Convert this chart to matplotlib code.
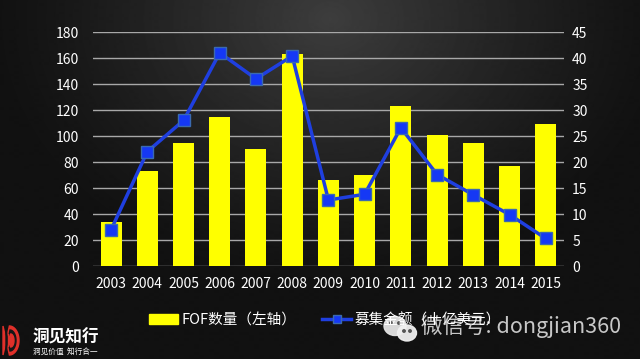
import matplotlib.pyplot as plt
import numpy as np
from matplotlib.patches import Ellipse, Patch, Polygon
from matplotlib.lines import Line2D

plt.rcParams['font.family'] = ['Noto Sans CJK SC', 'DejaVu Sans']

years = ['2003', '2004', '2005', '2006', '2007', '2008', '2009',
         '2010', '2011', '2012', '2013', '2014', '2015']
fof_count = [34, 73, 95, 115, 90, 163, 66, 70, 123, 101, 95, 77, 109]
raised = [7, 22, 28, 41, 36, 40.4, 12.7, 13.8, 26.6, 17.6, 13.7, 9.9, 5.3]

fig = plt.figure(figsize=(6.4, 3.6), dpi=100)

# dark spotlight background
bg = fig.add_axes([0, 0, 1, 1], zorder=0)
yy, xx = np.mgrid[0:360, 0:640]
r = np.sqrt(((xx - 330) / 330.0) ** 2 + ((yy - 20) / 260.0) ** 2)
shade = 0.07 + 0.17 * np.clip(1 - r, 0, 1) ** 1.2
bg.imshow(shade, cmap='gray', vmin=0, vmax=1, aspect='auto', interpolation='bilinear')
bg.set_xlim(0, 640)
bg.set_ylim(360, 0)
bg.axis('off')

ax = fig.add_axes([0.1453, 0.261, 0.7357, 0.65], zorder=1)
ax.patch.set_alpha(0)
x = np.arange(len(years))
ax.set_axisbelow(True)
ax.yaxis.grid(True, color='#a8a8a8', lw=1)
ax.bar(x, fof_count, width=0.58, color='#ffff00', zorder=2)
ax.set_ylim(0, 180)
ax.set_yticks(range(0, 181, 20))
ax.set_xlim(-0.5, len(years) - 0.5)
ax.set_xticks(x)
ax.set_xticklabels(years)

ax2 = ax.twinx()
ax2.plot(x, raised, color='#1f3fe0', lw=2.5, marker='s', markersize=8,
         markerfacecolor='#1538f5', markeredgecolor='#3a6ab0', markeredgewidth=1, zorder=3)
ax2.set_ylim(0, 45)
ax2.set_yticks(range(0, 46, 5))

for a in (ax, ax2):
    for s in a.spines.values():
        s.set_visible(False)
    a.tick_params(colors='white', labelsize=10, length=0, pad=6)
ax.tick_params(axis='x', pad=8)
ax.tick_params(axis='y', pad=10)

handles = [Patch(color='#ffff00'),
           Line2D([], [], color='#1f3fe0', lw=2.5, marker='s', markersize=6,
                  markerfacecolor='#1538f5', markeredgecolor='#3a6ab0')]
fig.legend(handles, ['FOF数量（左轴）', '募集金额（十亿美元）'], loc='center left',
           bbox_to_anchor=(149 / 640, 0.111), ncol=2, frameon=False, fontsize=10.5,
           labelcolor='white', handlelength=2.0, handleheight=0.6, handletextpad=0.2,
           columnspacing=1.8, borderpad=0, borderaxespad=0)

# wechat watermark
bg.add_patch(Ellipse((395, 326), 22, 19, color='#e4e4e4', alpha=0.95, zorder=5))
bg.add_patch(Ellipse((407, 333), 19, 16, color='#f0f0f0', alpha=0.95, zorder=6))
for ex, ey in [(391, 323), (399, 323), (404, 331), (410, 331)]:
    bg.add_patch(Ellipse((ex, ey), 2.5, 2.5, color='#555555', zorder=7))
bg.text(421, 327, '微信号: dongjian360', color='#dcdcdc', fontsize=15.5, alpha=0.9,
        va='center', ha='left', zorder=8)

# logo: red D icon drawn as nested D shapes
t = np.linspace(-np.pi / 2, np.pi / 2, 30)
for (x0, y0, w, h, col) in [(3, 326, 16, 29, '#e0302a'), (6, 330, 10, 21, '#161616'),
                            (8.5, 334, 5.5, 13, '#e0302a')]:
    rx, ry = w * 0.6, h / 2
    cx = x0 + w - rx
    pts = np.column_stack([cx + rx * np.cos(t), y0 + ry + ry * np.sin(t)])
    pts = np.vstack([[x0, y0], pts[::-1], [x0, y0 + h]])
    bg.add_patch(Polygon(pts, closed=True, color=col, zorder=5))
bg.text(33, 337, '洞见知行', color='white', fontsize=12, fontweight='bold',
        ha='left', va='center', zorder=5)
bg.text(33, 352, '洞见价值  知行合一', color='white', fontsize=5.5,
        ha='left', va='center', zorder=5)

fig.savefig('out.png', dpi=100)
